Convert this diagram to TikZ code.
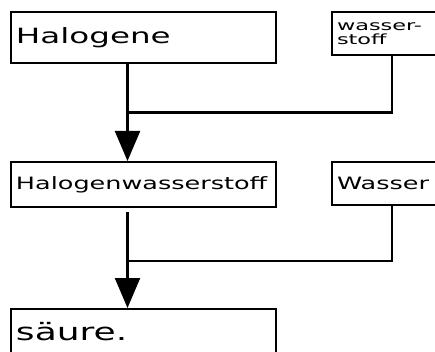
\documentclass[tikz,border=0pt]{standalone}
\usepackage{fontspec}
\newfontfamily\hand{DejaVu Sans}
\usetikzlibrary{positioning,calc,arrows.meta}

\begin{document}
\begin{tikzpicture}[%
    >={Triangle[width=25pt,length=30pt]},line width=2.2pt,
    lbox/.style={%
      rectangle,draw,line width=2pt,text width=255pt,inner xsep=5pt,align=left},
    rbox/.style={%
      rectangle,draw,line width=2pt,text width=110pt,inner xsep=5pt,align=left}
  ]
    \path[use as bounding box,clip] (0,0) rectangle (435pt,-352pt);
    \node[lbox,minimum height=51pt,font=\hand\fontsize{21}{24}\selectfont] (hal) at (143.5pt,-37.5pt) {\scalebox{1.55}[1]{Halogene}};
    \node[lbox,minimum height=45pt,font=\hand\fontsize{17}{19}\selectfont] (hws) [below=97pt of hal] {\scalebox{1.5}[1]{Halogenwasserstoff}};
    \node[lbox,minimum height=46pt,font=\hand\fontsize{24}{26}\selectfont] (sae) [below=100pt of hws] {\scalebox{1.5}[1]{säure.}};
    \node[rbox,minimum height=43pt,font=\hand\fontsize{14}{14}\selectfont] (wst) [right=54pt of hal.north east,anchor=north west] {\scalebox{1.6}[1]{wasser-}\\\scalebox{1.6}[1]{stoff}};
    \node[rbox,minimum height=43pt,font=\hand\fontsize{17}{19}\selectfont] (wsr) [right=54pt of hws.north east,anchor=north west] {\scalebox{1.5}[1]{Wasser}};
    % Zusammenfuehrung
    \coordinate (j1) at ($([xshift=-16pt]hal.south)!.5!([xshift=-16pt]hws.north)$);
    \coordinate (j2) at ($([xshift=-16pt]hws.south)!.53!([xshift=-16pt]sae.north)$);
    \draw (wst.south) |- (j1);
    \draw (wsr.south) |- (j2);
    \draw[->] ([xshift=-16pt]hal.south) -- ([xshift=-16pt]hws.north);
    \draw[->] ([xshift=-16pt,yshift=-4pt]hws.south) -- ([xshift=-16pt]sae.north);
  \end{tikzpicture}
\end{document}
